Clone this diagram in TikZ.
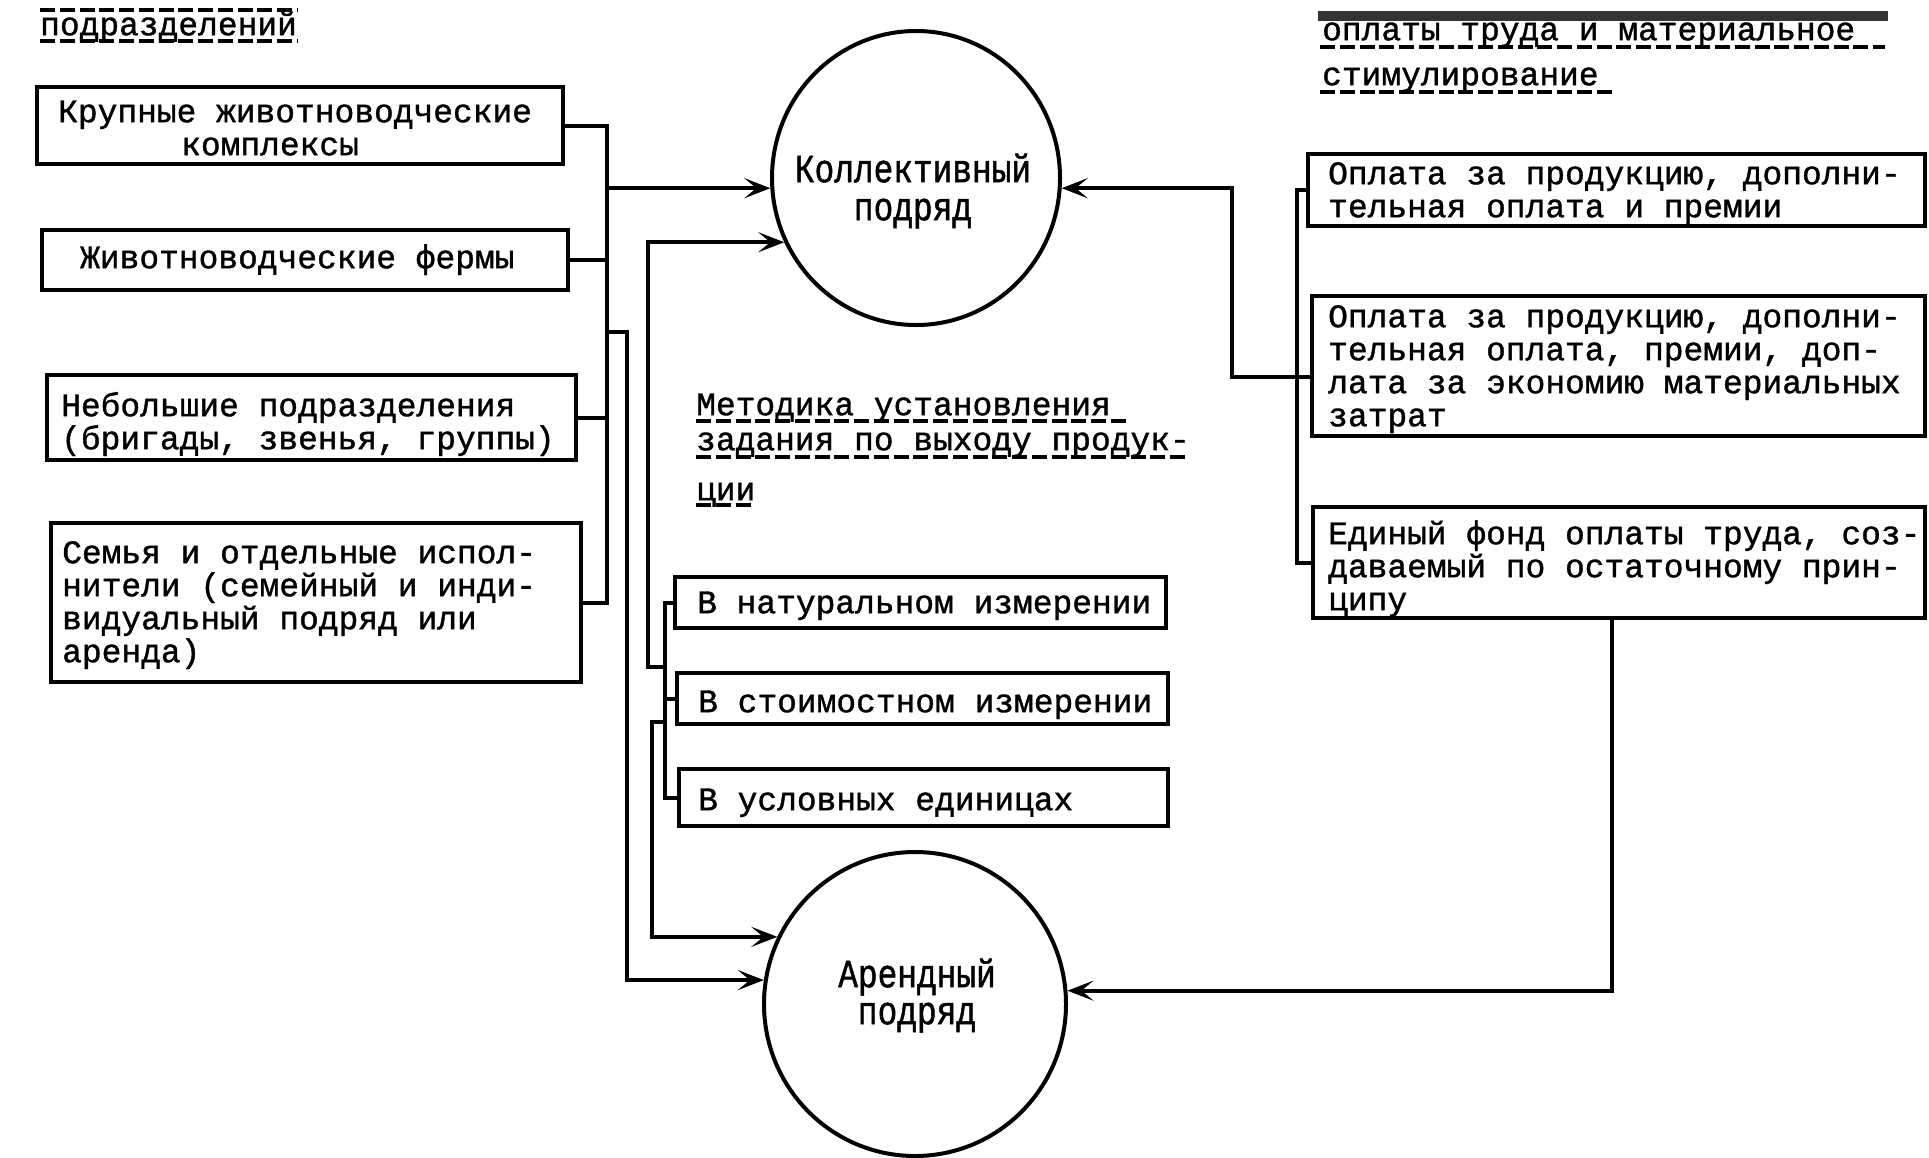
\documentclass[tikz,border=0pt]{standalone}
\usepackage{fontspec}
\usetikzlibrary{arrows.meta,shapes.geometric}
\newfontfamily\twf{Liberation Mono}[FakeBold=1.2]
\newfontfamily\twcf{Liberation Mono}[FakeStretch=0.82,FakeBold=1.2]
\newcommand\tw{\twf\fontsize{32.9}{33}\selectfont\lineskiplimit=-40pt}
\newcommand\twc{\twcf\fontsize{40}{31}\selectfont\lineskiplimit=-40pt}
\newcommand\fst{\rule{0pt}{27pt}}
\newcommand\fstc{\rule{0pt}{32pt}}
\newcommand\mybox[5]{\node[box, minimum width={#4-#2}, minimum height={#5-#3}] (#1) at ({(#2+#4)/2},{(#3+#5)/2}) {};}
\tikzset{
  box/.style={draw, line width=4pt, rectangle, inner sep=0pt},
  oval/.style={draw, line width=4pt, ellipse, inner sep=0pt},
  ln/.style={line width=4pt, line join=miter},
  arr/.style={ln, -{Stealth[length=26pt,width=20pt,inset=12pt]}},
  txt/.style={font=\tw, anchor=north west, inner sep=0pt, align=left},
  ctxt/.style={font=\twc, anchor=north, inner sep=0pt, align=center},
  uline/.style={line width=3.5pt, dash pattern=on 15pt off 4.75pt},
}
\begin{document}
\begin{tikzpicture}[x=1pt,y=-1pt]
\fill[white] (0,0) rectangle (1929,1157);
\useasboundingbox (0,0) rectangle (1929,1157);

% titles
\draw[uline] (40,10) -- (297,10);
\node[txt] (t0) at (40,8) {\fst подразделений};
\draw[uline] (40,41) -- (297,41);

\fill[black!80] (1318,11) rectangle (1888,21);
\node[txt] (t1) at (1322,13) {\fst оплаты труда и материальное\\[12pt]стимулирование};
\draw[uline] (1320,47) -- (1885,47);
\draw[uline] (1320,92) -- (1615,92);

% left boxes
\mybox{A}{37}{87}{563}{164}
\mybox{B}{42}{230}{568}{290}
\mybox{C}{47}{375}{576}{460}
\mybox{D}{51}{523}{581}{682}
\node[txt] (tA) at (58,95) {\fst Крупные животноводческие\\\hspace*{123pt}комплексы};
\node[txt] (tB) at (80,241) {\fst Животноводческие фермы};
\node[txt] (tC) at (61,389) {\fst Небольшие подразделения\\(бригады, звенья, группы)};
\node[txt] (tD) at (62,536) {\fst Семья и отдельные испол-\\нители (семейный и инди-\\видуальный подряд или\\аренда)};

% circles
\node[oval, minimum width=288, minimum height=294] (C1) at (916,178) {};
\node[oval, minimum width=302, minimum height=304] (C2) at (915,1004) {};
\node[ctxt] (tC1) at (913,150) {\fstc Коллективный\\[7pt]подряд};
\node[ctxt] (tC2) at (917,955) {\fstc Арендный\\[6pt]подряд};

% method
\node[txt] (tM) at (696,388) {\fst Методика установления\\[2pt]задания по выходу продук-\\[17pt]ции};
\draw[uline] (696,421) -- (1129,421);
\draw[uline] (696,457) -- (1189,457);
\draw[uline] (696,505) -- (755,505);
\mybox{E}{675}{577}{1166}{628}
\mybox{F}{677}{673}{1168}{724}
\mybox{G}{679}{769}{1168}{826}
\node[txt] (tE) at (697,586) {\fst В натуральном измерении};
\node[txt] (tF) at (698,685) {\fst В стоимостном измерении};
\node[txt] (tG) at (698,783) {\fst В условных единицах};

% right boxes
\mybox{H}{1308}{154}{1925}{226}
\mybox{I}{1312}{296}{1925}{436}
\mybox{J}{1313}{507}{1925}{618}
\node[txt] (tH) at (1328,157) {\fst Оплата за продукцию, дополни-\\тельная оплата и премии};
\node[txt] (tI) at (1328,300) {\fst Оплата за продукцию, дополни-\\тельная оплата, премии, доп-\\лата за экономию материальных\\затрат};
\node[txt] (tJ) at (1328,517) {\fst Единый фонд оплаты труда, соз-\\даваемый по остаточному прин-\\ципу};

% helper coordinates
\coordinate (bL) at (607,0);
\coordinate (k1) at (627,332);
\coordinate (bM) at (665,0);
\coordinate (m1) at (648,667);
\coordinate (m2) at (652,722);
\coordinate (bR) at (1297,0);
\coordinate (r1) at (1232,377);
\coordinate (r2) at (1612,0);

% connectors
\draw[ln] (A.east) -- (A.east -| bL) -- (D.east -| bL) -- (D.east);
\draw[ln] (B.east) -- (B.east -| bL);
\draw[ln] (C.east) -- (C.east -| bL);
\draw[arr] (C1.184 -| bL) -- (C1.184);
\draw[arr] (k1 -| bL) -- (k1) |- (C2.171);
\draw[ln] (E.west) -- (E.west -| bM) -- (G.west -| bM) -- (G.west);
\draw[ln] (F.west) -- (F.west -| bM);
\draw[arr] (m1 -| bM) -- (m1) |- (C1.206);
\draw[arr] (m2 -| bM) -- (m2) |- (C2.154);
\draw[ln] (H.west) -- (H.west -| bR) -- (J.west -| bR) -- (J.west);
\draw[arr] (r1 -| I.west) -- (r1) |- (C1.356);
\draw[arr] (r2 |- J.south) |- (C2.5);
\end{tikzpicture}
\end{document}
